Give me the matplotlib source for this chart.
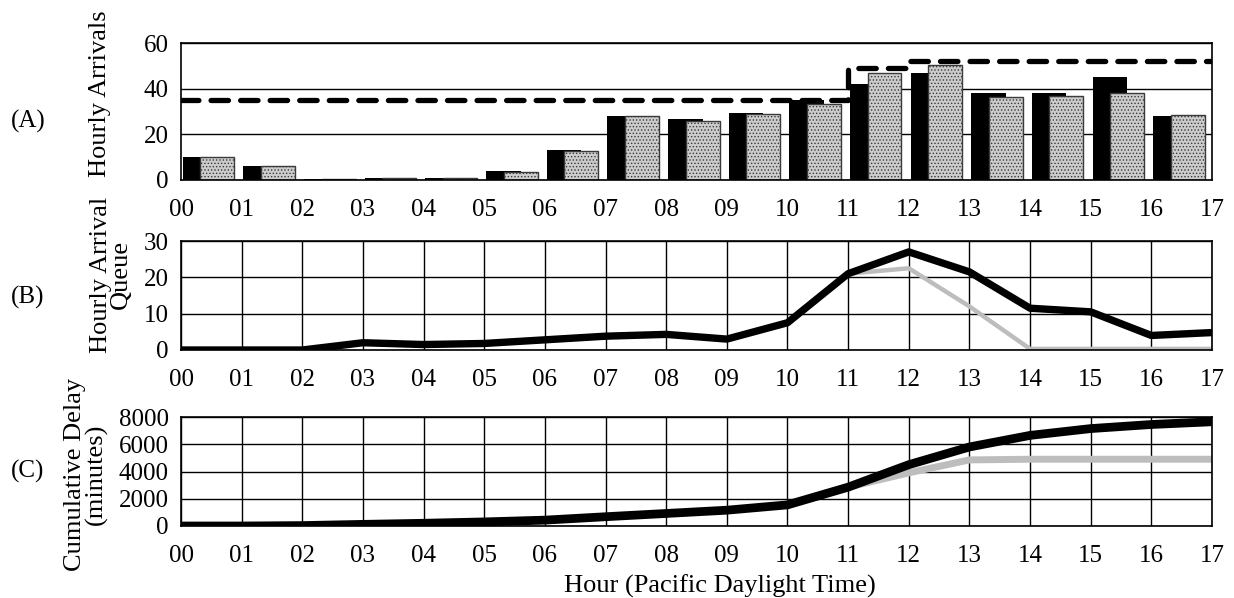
import matplotlib
matplotlib.use('Agg')
import matplotlib.pyplot as plt
import numpy as np

plt.rcParams['font.family'] = ['Liberation Serif', 'DejaVu Serif']
plt.rcParams['font.size'] = 18
plt.rcParams['hatch.linewidth'] = 0.6

# hour labels on the x axis (boundaries 00 .. 17)
hour_labels = ['00', '01', '02', '03', '04', '05', '06', '07', '08',
               '09', '10', '11', '12', '13', '14', '15', '16', '17']

# (A) hourly arrivals, one group per hour 00-16
arrivals_black = [10, 6, 0.3, 1, 1, 4, 13, 28, 26.5, 29.5, 35, 42, 47, 38, 38, 45, 28]
arrivals_gray = [10, 6, 0.3, 1, 1, 3.5, 12.5, 28, 26, 29, 33.5, 47, 50.5, 36.5, 37, 38, 28.5]
capacity = [35, 35, 35, 35, 35, 35, 35, 35, 35, 35, 35, 49, 52, 52, 52, 52, 52]

# (B) hourly arrival queue at each hour boundary
queue_black = [0, 0, 0, 2, 1.5, 1.8, 2.8, 3.8, 4.3, 3, 7.5, 21, 27, 21.5, 11.5, 10.5, 4, 4.8]
queue_gray = [0, 0, 0, 2, 1.5, 1.8, 2.8, 3.8, 4.3, 3, 7.5, 21, 22.5, 12, 0.3, 0.3, 0.3, 0.3]

# (C) cumulative delay (minutes)
delay_black = [0, 0, 30, 120, 200, 300, 430, 680, 920, 1160, 1550, 2850, 4500, 5800, 6650, 7150, 7450, 7650]
delay_gray = [0, 0, 30, 120, 200, 300, 430, 680, 920, 1160, 1550, 2850, 3900, 4850, 4900, 4900, 4900, 4900]

hours = np.arange(len(hour_labels))
groups = np.arange(len(arrivals_black))
stipple = '#bdbdbd'

W, H = 1234, 598
fig = plt.figure(figsize=(W / 100, H / 100), dpi=100)
left, width = 181 / W, 1031 / W
ax_a = fig.add_axes([left, 1 - 180 / H, width, 137 / H])
ax_b = fig.add_axes([left, 1 - 350 / H, width, 109 / H])
ax_c = fig.add_axes([left, 1 - 526 / H, width, 109 / H])

# panel A
ax_a.bar(groups + 0.03, arrivals_black, width=0.57, align='edge', color='black', zorder=2)
ax_a.bar(groups + 0.32, arrivals_gray, width=0.56, align='edge', facecolor='#cccccc',
         edgecolor='#3a3a3a', hatch='.....', linewidth=1, zorder=3)
ax_a.step(hours, capacity + [capacity[-1]], where='post', color='black', lw=3.8,
          dashes=(3.3, 2.3), dash_capstyle='round', zorder=4)
ax_a.set_ylim(0, 60)
ax_a.set_yticks([0, 20, 40, 60])
ax_a.grid(axis='y', color='black', lw=1)

# panel B
ax_b.plot(hours, queue_gray, color=stipple, lw=3.2, zorder=3, solid_joinstyle='round')
ax_b.plot(hours, queue_black, color='black', lw=5.3, zorder=4, solid_joinstyle='round')
ax_b.set_ylim(0, 30)
ax_b.set_yticks([0, 10, 20, 30])
ax_b.grid(color='black', lw=1)

# panel C
ax_c.plot(hours, delay_gray, color=stipple, lw=5, zorder=3, solid_joinstyle='round')
ax_c.plot(hours, delay_black, color='black', lw=6.3, zorder=4, solid_joinstyle='round')
ax_c.set_ylim(0, 8000)
ax_c.set_yticks([0, 2000, 4000, 6000, 8000])
ax_c.grid(color='black', lw=1)

for ax in (ax_a, ax_b, ax_c):
    ax.set_xlim(0, 17)
    ax.set_xticks(hours)
    ax.set_xticklabels(hour_labels)
    ax.tick_params(length=0, labelsize=18)
    ax.tick_params(axis='x', pad=14)
    ax.tick_params(axis='y', pad=9)
    ax.set_axisbelow(True)
    for s in ax.spines.values():
        s.set_linewidth(1.2)
        s.set_zorder(6)

fig.text(720 / W, 1 - 586 / H, 'Hour (Pacific Daylight Time)', fontsize=19,
         ha='center', va='center')

# panel letters and y titles, x in figure pixels
ax_a.annotate('(A)', xy=(28, 0.43), xycoords=('figure pixels', 'axes fraction'),
              ha='center', va='center')
ax_a.annotate('Hourly Arrivals', xy=(100, 0.63), xycoords=('figure pixels', 'axes fraction'),
              ha='center', va='center', rotation=90, fontsize=19)
ax_b.annotate('(B)', xy=(28, 0.48), xycoords=('figure pixels', 'axes fraction'),
              ha='center', va='center')
ax_b.annotate('Hourly Arrival\nQueue', xy=(111, 0.69), xycoords=('figure pixels', 'axes fraction'),
              ha='center', va='center', rotation=90, multialignment='center',
              linespacing=0.9, fontsize=19)
ax_c.annotate('(C)', xy=(28, 0.5), xycoords=('figure pixels', 'axes fraction'),
              ha='center', va='center')
ax_c.annotate('Cumulative Delay\n(minutes)', xy=(86, 0.47), xycoords=('figure pixels', 'axes fraction'),
              ha='center', va='center', rotation=90, multialignment='center',
              linespacing=0.9, fontsize=19)

fig.savefig('out.png', dpi=100)
